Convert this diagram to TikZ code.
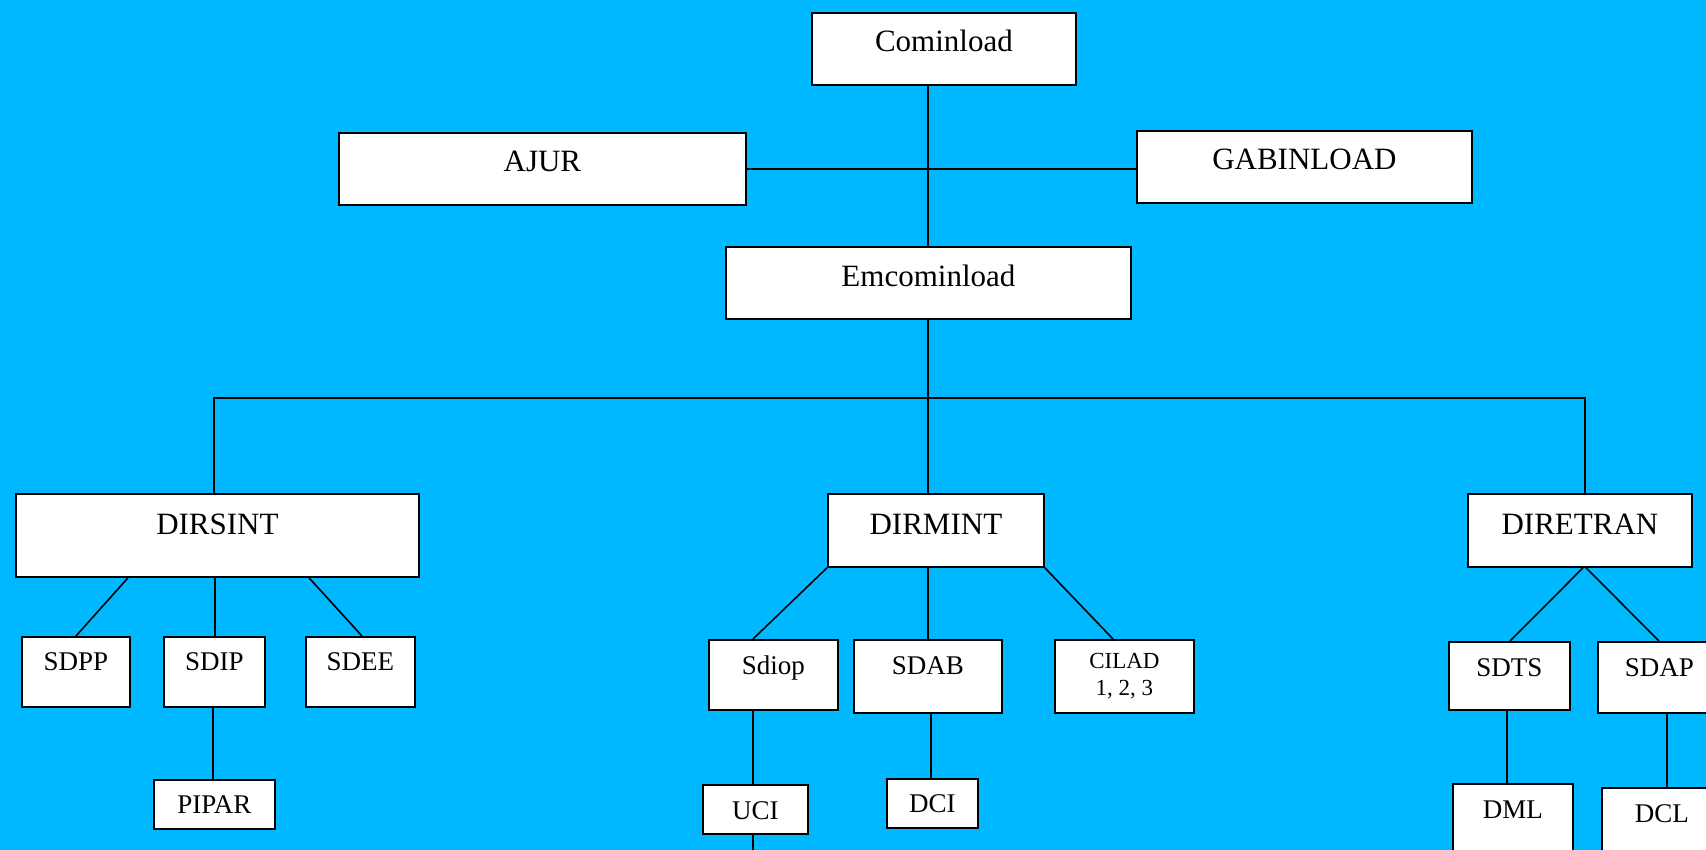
\documentclass[tikz,border=0pt]{standalone}
\usepackage{fontspec}
\setmainfont{Liberation Serif}
\definecolor{bgblue}{RGB}{0,184,255}
\begin{document}
\begin{tikzpicture}[x=0.5pt,y=-0.5pt,
  box/.style={draw=black, fill=white, line width=0.9pt, rectangle, inner sep=0pt, anchor=north west,
    font=\fontsize{15.5}{18}\selectfont},
  sbox/.style={box, font=\fontsize{13.5}{16}\selectfont},
  conn/.style={line width=0.8pt, draw=black}]
\clip (0,0) rectangle (1706,850);
\fill[bgblue] (0,0) rectangle (1706,850);

% top level
\node[box, minimum width=132pt, text height=19.5pt, text depth=16.5pt] (comin) at (811,12) {Cominload};
\node[box, minimum width=203.5pt, text height=19.5pt, text depth=16.5pt] (ajur) at (338,132) {AJUR};
\node[box, minimum width=167.5pt, text height=19.5pt, text depth=16.5pt] (gabin) at (1136,130) {GABINLOAD};
\node[box, minimum width=202.5pt, text height=20pt, text depth=16pt] (emcom) at (725,246) {Emcominload};

% directorates
\node[box, minimum width=201.5pt, text height=20.5pt, text depth=21pt] (dirsint) at (15,493) {DIRSINT};
\node[box, minimum width=108pt, text height=20.5pt, text depth=16pt] (dirmint) at (827,493) {DIRMINT};
\node[box, minimum width=112pt, text height=20.5pt, text depth=16pt] (diretran) at (1467,493) {DIRETRAN};

% DIRSINT children
\node[sbox, minimum width=54pt, text height=17pt, text depth=18pt] (sdpp) at (21,636) {SDPP};
\node[sbox, minimum width=50.5pt, text height=17pt, text depth=18pt] (sdip) at (163,636) {SDIP};
\node[sbox, minimum width=54.5pt, text height=17pt, text depth=18pt] (sdee) at (305,636) {SDEE};
\node[sbox, minimum width=60.5pt, text height=17pt, text depth=7.5pt] (pipar) at (153,779) {PIPAR};

% DIRMINT children
\node[sbox, minimum width=64.5pt, text height=17.5pt, text depth=17.5pt] (sdiop) at (708,639) {Sdiop};
\node[sbox, minimum width=74pt, text height=17.5pt, text depth=19pt] (sdab) at (853,639) {SDAB};
\node[box, minimum width=69.5pt, minimum height=36.5pt, align=center,
      font=\fontsize{11.5}{13.5}\selectfont] (cilad) at (1054,639) {CILAD\\1, 2, 3};
\node[sbox, minimum width=52.5pt, text height=17.5pt, text depth=7pt] (uci) at (702,784) {UCI};
\node[sbox, minimum width=45.5pt, text height=17pt, text depth=7.5pt] (dci) at (886,778) {DCI};

% DIRETRAN children
\node[sbox, minimum width=60.5pt, text height=17.5pt, text depth=16.5pt] (sdts) at (1448,641) {SDTS};
\node[sbox, minimum width=61.5pt, text height=17.5pt, text depth=18pt] (sdap) at (1597,641) {SDAP};
\node[sbox, minimum width=60pt, text height=17.5pt, text depth=26pt] (dml) at (1452,783) {DML};
\node[sbox, minimum width=60pt, text height=17.5pt, text depth=26pt] (dcl) at (1601,787) {DCL};

% connectors
\coordinate (bus) at (928,398);
\coordinate (ucibottom) at (753,850);
\draw[conn] (comin.south -| 928,0) -- (emcom.north -| 928,0);
\draw[conn] (ajur.east) -- (ajur.east -| gabin.west);
\draw[conn] (emcom.south -| bus) -- (bus);
\draw[conn] (dirsint.north -| 214,0) |- (bus) -| (diretran.north -| 1585,0);
\draw[conn] (bus) -- (dirmint.north -| bus);

\draw[conn] (dirsint.south -| 128,0) -- (sdpp.north -| 76,0);
\draw[conn] (dirsint.south -| 215,0) -- (sdip.north -| 215,0);
\draw[conn] (dirsint.south -| 309,0) -- (sdee.north -| 362,0);
\draw[conn] (sdip.south -| 213,0) -- (pipar.north -| 213,0);

\draw[conn] (dirmint.south west) -- (sdiop.north -| 753,0);
\draw[conn] (dirmint.south -| 928,0) -- (sdab.north -| 928,0);
\draw[conn] (dirmint.south east) -- (cilad.north -| 1113,0);
\draw[conn] (sdiop.south -| 753,0) -- (uci.north -| 753,0);
\draw[conn] (uci.south -| ucibottom) -- (ucibottom);
\draw[conn] (sdab.south -| 931,0) -- (dci.north -| 931,0);

\draw[conn] (diretran.south -| 1583,0) -- (sdts.north -| 1510,0);
\draw[conn] (diretran.south -| 1586,0) -- (sdap.north -| 1659,0);
\draw[conn] (sdts.south -| 1507,0) -- (dml.north -| 1507,0);
\draw[conn] (sdap.south -| 1667,0) -- (dcl.north -| 1667,0);
\end{tikzpicture}
\end{document}
